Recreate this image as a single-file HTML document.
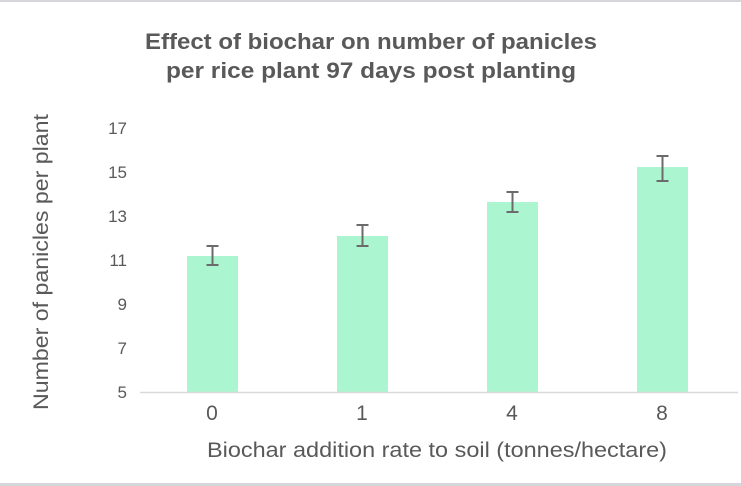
<!DOCTYPE html>
<html><head><meta charset="utf-8"><style>
html,body{margin:0;padding:0;background:#fff;}
svg{display:block;}
</style></head><body>
<svg width="741" height="486" xmlns="http://www.w3.org/2000/svg" font-family="Liberation Sans, sans-serif">
<rect x="0" y="0" width="741" height="2" fill="#d4d6da"/>
<rect x="0" y="483" width="741" height="3" fill="#d4d6da"/>
<g fill="#595959" font-weight="bold" font-size="22" text-anchor="middle">
<text x="371" y="49" textLength="452" lengthAdjust="spacingAndGlyphs">Effect of biochar on number of panicles</text>
<text x="371" y="78" textLength="410" lengthAdjust="spacingAndGlyphs">per rice plant 97 days post planting</text>
</g>
<g fill="#595959" font-size="17" text-anchor="end">
<text x="127" y="134">17</text>
<text x="127" y="178">15</text>
<text x="127" y="222">13</text>
<text x="127" y="266">11</text>
<text x="127" y="310">9</text>
<text x="127" y="354">7</text>
<text x="127" y="398">5</text>
</g>
<g fill="#abf5d1">
<rect x="187" y="256" width="51" height="136"/>
<rect x="337" y="236" width="51" height="156"/>
<rect x="487" y="202" width="51" height="190"/>
<rect x="637" y="167" width="51" height="225"/>
</g>
<line x1="140" y1="392.5" x2="738" y2="392.5" stroke="#d9d9d9" stroke-width="1.5"/>
<g stroke="#6b6b6b" stroke-width="2">
<path d="M212.5 246V265M206.5 246H218.5M206.5 265H218.5"/>
<path d="M362.5 225V246M356.5 225H368.5M356.5 246H368.5"/>
<path d="M512.5 192V212M506.5 192H518.5M506.5 212H518.5"/>
<path d="M662.5 156V181M656.5 156H668.5M656.5 181H668.5"/>
</g>
<g fill="#595959" font-size="21" text-anchor="middle">
<text x="212" y="420">0</text>
<text x="362" y="420">1</text>
<text x="512" y="420">4</text>
<text x="662" y="420">8</text>
<text x="437" y="457" textLength="460" lengthAdjust="spacingAndGlyphs">Biochar addition rate to soil (tonnes/hectare)</text>
<text transform="translate(48,262) rotate(-90)" textLength="296" lengthAdjust="spacingAndGlyphs">Number of panicles per plant</text>
</g>
</svg>
</body></html>
